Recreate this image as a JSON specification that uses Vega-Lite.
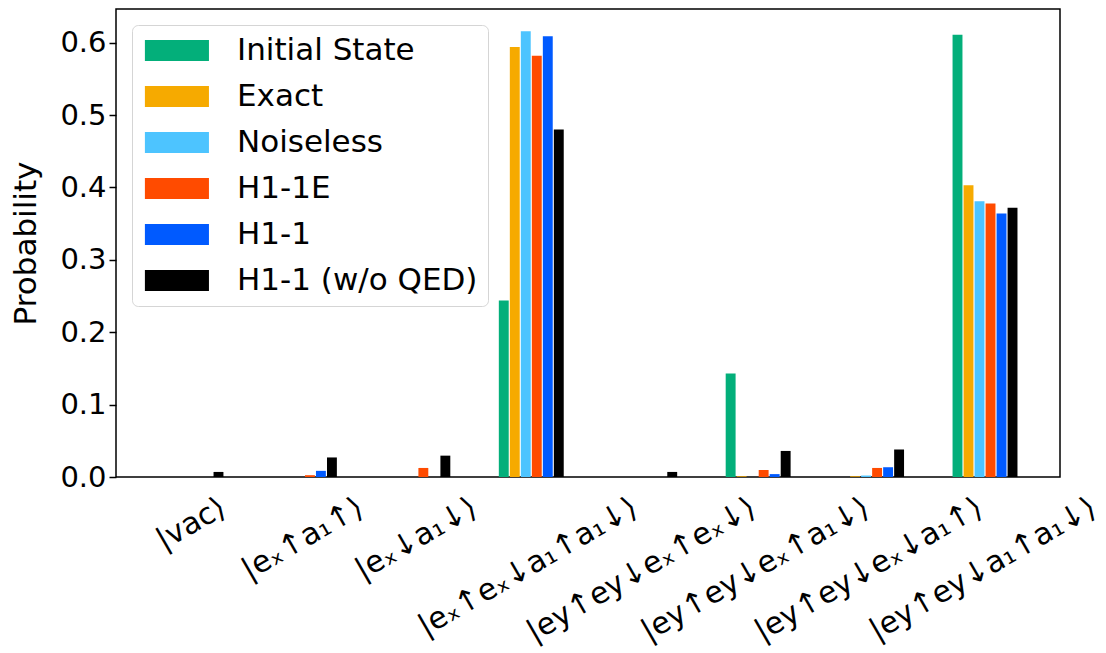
{
  "$schema": "https://vega.github.io/schema/vega-lite/v6.json",
  "width": 944,
  "height": 468,
  "autosize": {"type": "none"},
  "padding": {"left": 116, "top": 9, "right": 46, "bottom": 176},
  "background": "white",
  "config": {
    "font": "DejaVu Sans",
    "view": {"stroke": "black", "strokeWidth": 1.5},
    "axis": {"grid": false}
  },
  "data": {
    "values": [
      {"state": "|vac⟩", "series": "Initial State", "p": 0},
      {"state": "|vac⟩", "series": "Exact", "p": 0},
      {"state": "|vac⟩", "series": "Noiseless", "p": 0},
      {"state": "|vac⟩", "series": "H1-1E", "p": 0},
      {"state": "|vac⟩", "series": "H1-1", "p": 0},
      {"state": "|vac⟩", "series": "H1-1 (w/o QED)", "p": 0.007},
      {"state": "|eₓ↑a₁↑⟩", "series": "Initial State", "p": 0},
      {"state": "|eₓ↑a₁↑⟩", "series": "Exact", "p": 0},
      {"state": "|eₓ↑a₁↑⟩", "series": "Noiseless", "p": 0},
      {"state": "|eₓ↑a₁↑⟩", "series": "H1-1E", "p": 0.0025},
      {"state": "|eₓ↑a₁↑⟩", "series": "H1-1", "p": 0.0085},
      {"state": "|eₓ↑a₁↑⟩", "series": "H1-1 (w/o QED)", "p": 0.027},
      {"state": "|eₓ↓a₁↓⟩", "series": "Initial State", "p": 0},
      {"state": "|eₓ↓a₁↓⟩", "series": "Exact", "p": 0},
      {"state": "|eₓ↓a₁↓⟩", "series": "Noiseless", "p": 0},
      {"state": "|eₓ↓a₁↓⟩", "series": "H1-1E", "p": 0.0125},
      {"state": "|eₓ↓a₁↓⟩", "series": "H1-1", "p": 0},
      {"state": "|eₓ↓a₁↓⟩", "series": "H1-1 (w/o QED)", "p": 0.0295},
      {"state": "|eₓ↑eₓ↓a₁↑a₁↓⟩", "series": "Initial State", "p": 0.244},
      {"state": "|eₓ↑eₓ↓a₁↑a₁↓⟩", "series": "Exact", "p": 0.594},
      {"state": "|eₓ↑eₓ↓a₁↑a₁↓⟩", "series": "Noiseless", "p": 0.616},
      {"state": "|eₓ↑eₓ↓a₁↑a₁↓⟩", "series": "H1-1E", "p": 0.582},
      {"state": "|eₓ↑eₓ↓a₁↑a₁↓⟩", "series": "H1-1", "p": 0.609},
      {"state": "|eₓ↑eₓ↓a₁↑a₁↓⟩", "series": "H1-1 (w/o QED)", "p": 0.48},
      {"state": "|ey↑ey↓eₓ↑eₓ↓⟩", "series": "Initial State", "p": 0},
      {"state": "|ey↑ey↓eₓ↑eₓ↓⟩", "series": "Exact", "p": 0},
      {"state": "|ey↑ey↓eₓ↑eₓ↓⟩", "series": "Noiseless", "p": 0},
      {"state": "|ey↑ey↓eₓ↑eₓ↓⟩", "series": "H1-1E", "p": 0},
      {"state": "|ey↑ey↓eₓ↑eₓ↓⟩", "series": "H1-1", "p": 0},
      {"state": "|ey↑ey↓eₓ↑eₓ↓⟩", "series": "H1-1 (w/o QED)", "p": 0.007},
      {"state": "|ey↑ey↓eₓ↑a₁↓⟩", "series": "Initial State", "p": 0.143},
      {"state": "|ey↑ey↓eₓ↑a₁↓⟩", "series": "Exact", "p": 0.001},
      {"state": "|ey↑ey↓eₓ↑a₁↓⟩", "series": "Noiseless", "p": 0},
      {"state": "|ey↑ey↓eₓ↑a₁↓⟩", "series": "H1-1E", "p": 0.0097},
      {"state": "|ey↑ey↓eₓ↑a₁↓⟩", "series": "H1-1", "p": 0.004},
      {"state": "|ey↑ey↓eₓ↑a₁↓⟩", "series": "H1-1 (w/o QED)", "p": 0.036},
      {"state": "|ey↑ey↓eₓ↓a₁↑⟩", "series": "Initial State", "p": 0},
      {"state": "|ey↑ey↓eₓ↓a₁↑⟩", "series": "Exact", "p": 0.001},
      {"state": "|ey↑ey↓eₓ↓a₁↑⟩", "series": "Noiseless", "p": 0.002},
      {"state": "|ey↑ey↓eₓ↓a₁↑⟩", "series": "H1-1E", "p": 0.0125},
      {"state": "|ey↑ey↓eₓ↓a₁↑⟩", "series": "H1-1", "p": 0.0135},
      {"state": "|ey↑ey↓eₓ↓a₁↑⟩", "series": "H1-1 (w/o QED)", "p": 0.038},
      {"state": "|ey↑ey↓a₁↑a₁↓⟩", "series": "Initial State", "p": 0.611},
      {"state": "|ey↑ey↓a₁↑a₁↓⟩", "series": "Exact", "p": 0.403},
      {"state": "|ey↑ey↓a₁↑a₁↓⟩", "series": "Noiseless", "p": 0.381},
      {"state": "|ey↑ey↓a₁↑a₁↓⟩", "series": "H1-1E", "p": 0.378},
      {"state": "|ey↑ey↓a₁↑a₁↓⟩", "series": "H1-1", "p": 0.364},
      {"state": "|ey↑ey↓a₁↑a₁↓⟩", "series": "H1-1 (w/o QED)", "p": 0.372}
    ]
  },
  "mark": {"type": "bar"},
  "encoding": {
    "x": {
      "field": "state",
      "type": "nominal",
      "sort": null,
      "scale": {"paddingInner": 0.418, "paddingOuter": 0.37},
      "axis": {
        "title": null,
        "ticks": false,
        "domain": false,
        "labelAngle": -30,
        "labelAlign": "right",
        "labelBaseline": "top",
        "labelFontSize": 30,
        "labelColor": "black",
        "labelPadding": 15,
        "labelLimit": 1000,
        "labelOffset": {
          "condition": [
            {"test": "datum.value === '|vac⟩'", "value": 25},
            {"test": "datum.value === '|eₓ↑a₁↑⟩' || datum.value === '|eₓ↓a₁↓⟩'", "value": 49},
            {"test": "datum.value === '|eₓ↑eₓ↓a₁↑a₁↓⟩'", "value": 96}
          ],
          "value": 101
        }
      }
    },
    "xOffset": {
      "field": "series",
      "type": "nominal",
      "sort": ["Initial State", "Exact", "Noiseless", "H1-1E", "H1-1", "H1-1 (w/o QED)"],
      "scale": {"paddingInner": 0.1, "paddingOuter": 0.05}
    },
    "y": {
      "field": "p",
      "type": "quantitative",
      "scale": {"domain": [0, 0.6466], "nice": false, "zero": true},
      "axis": {
        "title": "Probability",
        "titleFontSize": 31,
        "titleFontWeight": "normal",
        "titleColor": "black",
        "titlePadding": 17,
        "values": [0, 0.1, 0.2, 0.3, 0.4, 0.5, 0.6],
        "format": ".1f",
        "labelFontSize": 29,
        "labelColor": "black",
        "labelPadding": 3,
        "tickSize": 7,
        "tickWidth": 1.5,
        "tickColor": "black",
        "domain": false
      }
    },
    "color": {
      "field": "series",
      "type": "nominal",
      "sort": ["Initial State", "Exact", "Noiseless", "H1-1E", "H1-1", "H1-1 (w/o QED)"],
      "scale": {
        "domain": ["Initial State", "Exact", "Noiseless", "H1-1E", "H1-1", "H1-1 (w/o QED)"],
        "range": ["#03AF7A", "#F6AA00", "#4DC4FF", "#FF4B00", "#005AFF", "#000000"]
      },
      "legend": {
        "title": null,
        "orient": "top-left",
        "offset": 16,
        "padding": 10,
        "fillColor": "rgba(255,255,255,0.8)",
        "strokeColor": "#d5d5d5",
        "cornerRadius": 6,
        "labelFontSize": 31,
        "labelColor": "black",
        "labelLimit": 1000,
        "symbolType": "M-1.2,-1H4.9V1H-1.2Z",
        "symbolSize": 441,
        "symbolStrokeWidth": 0,
        "symbolOpacity": 1,
        "labelOffset": 64,
        "rowPadding": 14
      }
    }
  }
}
